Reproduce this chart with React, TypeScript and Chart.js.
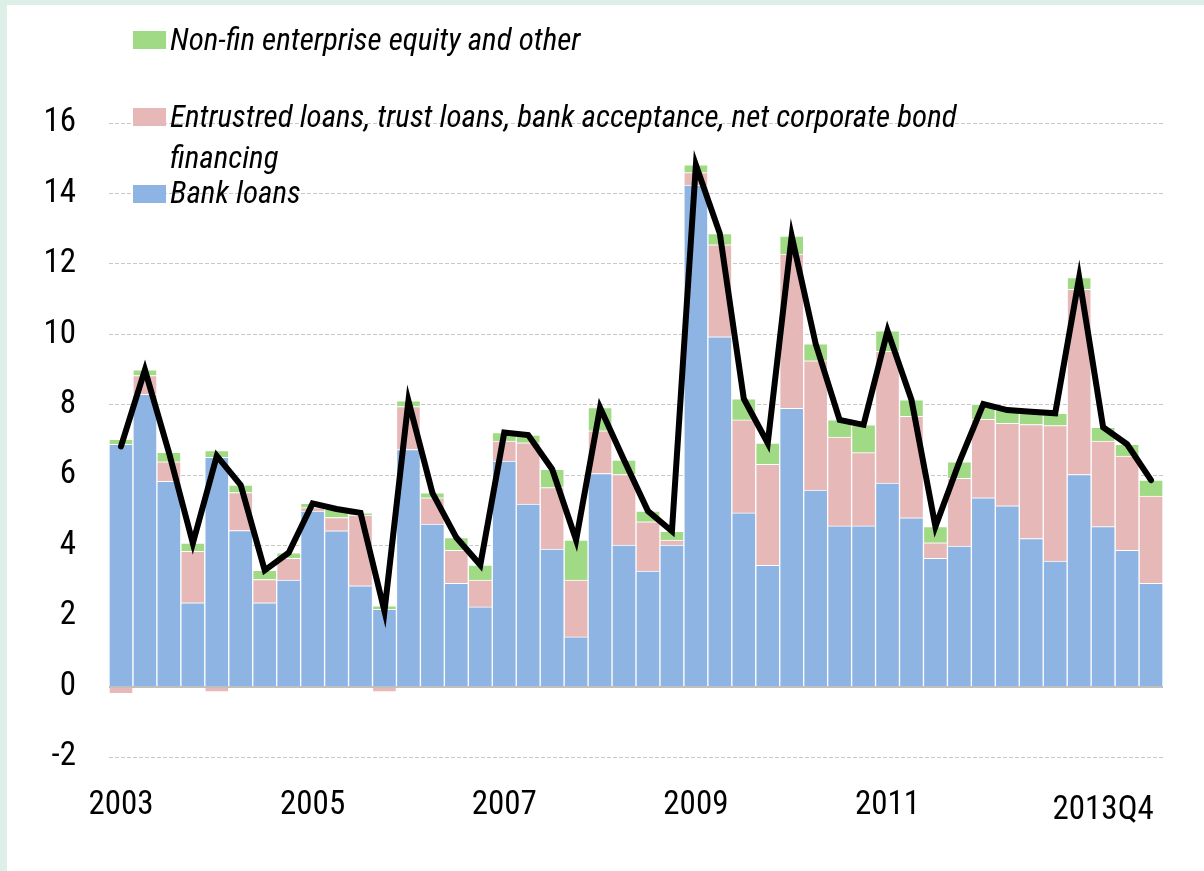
import React, { useEffect, useRef } from "react";
import { Chart, registerables } from "chart.js";

Chart.register(...registerables);

const quarters = [
  "2003Q1","2003Q2","2003Q3","2003Q4","2004Q1","2004Q2","2004Q3","2004Q4",
  "2005Q1","2005Q2","2005Q3","2005Q4","2006Q1","2006Q2","2006Q3","2006Q4",
  "2007Q1","2007Q2","2007Q3","2007Q4","2008Q1","2008Q2","2008Q3","2008Q4",
  "2009Q1","2009Q2","2009Q3","2009Q4","2010Q1","2010Q2","2010Q3","2010Q4",
  "2011Q1","2011Q2","2011Q3","2011Q4","2012Q1","2012Q2","2012Q3","2012Q4",
  "2013Q1","2013Q2","2013Q3","2013Q4",
];

const bankLoans = [
  6.88, 8.30, 5.83, 2.38, 6.51, 4.43, 2.38, 3.02,
  4.98, 4.42, 2.86, 2.19, 6.73, 4.61, 2.93, 2.26,
  6.40, 5.18, 3.90, 1.41, 6.05, 4.02, 3.28, 4.02,
  14.24, 9.93, 4.93, 3.44, 7.90, 5.58, 4.56, 4.56,
  5.78, 4.79, 3.64, 3.99, 5.36, 5.13, 4.20, 3.56,
  6.02, 4.54, 3.87, 2.93,
];

const shadowFinancing = [
  -0.20, 0.53, 0.55, 1.46, -0.15, 1.08, 0.66, 0.62,
  0.10, 0.38, 2.01, -0.15, 1.22, 0.75, 0.94, 0.76,
  0.57, 1.74, 1.75, 1.61, 1.21, 2.00, 1.40, 0.14,
  0.35, 2.61, 2.64, 2.87, 4.38, 3.67, 2.52, 2.08,
  3.74, 2.88, 0.44, 1.92, 2.23, 2.34, 3.24, 3.85,
  5.26, 2.43, 2.67, 2.48,
];

const equityOther = [
  0.14, 0.16, 0.27, 0.23, 0.19, 0.21, 0.26, 0.16,
  0.12, 0.24, 0.06, 0.10, 0.16, 0.14, 0.36, 0.43,
  0.24, 0.22, 0.52, 1.14, 0.66, 0.41, 0.30, 0.25,
  0.22, 0.32, 0.60, 0.60, 0.51, 0.48, 0.49, 0.79,
  0.58, 0.47, 0.46, 0.47, 0.43, 0.38, 0.36, 0.35,
  0.33, 0.39, 0.34, 0.45,
];

const totalFinancing = [
  6.82, 8.99, 6.65, 4.07, 6.55, 5.72, 3.30, 3.80,
  5.20, 5.04, 4.93, 2.14, 8.11, 5.50, 4.23, 3.45,
  7.21, 7.14, 6.17, 4.16, 7.92, 6.43, 4.98, 4.41,
  14.81, 12.86, 8.17, 6.91, 12.79, 9.73, 7.57, 7.43,
  10.10, 8.14, 4.54, 6.38, 8.02, 7.85, 7.80, 7.76,
  11.61, 7.36, 6.88, 5.86,
];

const xTickIndex = [0, 8, 16, 24, 32, 41];
const xTickText = ["2003", "2005", "2007", "2009", "2011", "2013Q4"];

const legendLabels = [
  "Non-fin enterprise equity and other",
  "Entrustred loans, trust loans, bank acceptance, net corporate bond",
  "financing",
  "Bank loans",
];

const BLUE = "#8EB4E3";
const PINK = "#E6B9B8";
const GREEN = "#A0DA84";
const FONT = '"Roboto Condensed", "Open Sans", sans-serif';

const zeroLine = {
  id: "zeroLine",
  afterDatasetsDraw(chart: any) {
    const { ctx, chartArea, scales } = chart;
    const py = scales.y.getPixelForValue(0);
    ctx.save();
    ctx.strokeStyle = "#BFBFBF";
    ctx.lineWidth = 2;
    ctx.beginPath();
    ctx.moveTo(chartArea.left, py + 0.5);
    ctx.lineTo(chartArea.right, py + 0.5);
    ctx.stroke();
    ctx.restore();
  },
};

export default function App() {
  const canvasRef = useRef<HTMLCanvasElement | null>(null);

  useEffect(() => {
    const canvas = canvasRef.current;
    if (!canvas) return;
    const barCommon = {
      type: "bar" as const,
      stack: "bars",
      order: 1,
      barPercentage: 1,
      categoryPercentage: 1,
      borderWidth: 1,
      borderColor: "#FFFFFF",
      borderSkipped: "start" as const,
    };
    const chart = new Chart(canvas, {
      type: "bar",
      data: {
        labels: quarters,
        datasets: [
          { ...barCommon, label: "Bank loans", data: bankLoans, backgroundColor: BLUE },
          { ...barCommon, label: "Entrusted loans etc.", data: shadowFinancing, backgroundColor: PINK },
          { ...barCommon, label: "Non-fin enterprise equity and other", data: equityOther, backgroundColor: GREEN },
          {
            type: "line" as const,
            label: "Total",
            data: totalFinancing,
            stack: "total",
            order: 0,
            borderColor: "#000000",
            borderWidth: 6,
            pointRadius: 0,
            tension: 0,
            borderCapStyle: "round",
            borderJoinStyle: "miter",
            fill: false,
          } as any,
        ],
      },
      options: {
        responsive: false,
        animation: false,
        events: [],
        layout: { padding: { left: 0, right: 41, top: 123, bottom: 0 } },
        plugins: { legend: { display: false }, tooltip: { enabled: false } },
        scales: {
          x: {
            stacked: true,
            grid: { display: false },
            border: { display: false },
            ticks: {
              autoSkip: false,
              maxRotation: 0,
              minRotation: 0,
              padding: 22,
              color: "#000000",
              font: (c: any) => ({ family: FONT, size: 33, lineHeight: c.index === 41 ? 1.45 : 1.15 }),
              callback: (_v: any, i: number) => {
                const k = xTickIndex.indexOf(i);
                return k >= 0 ? xTickText[k] : "";
              },
            },
            afterFit: (s: any) => {
              s.height = 114;
            },
          },
          y: {
            stacked: true,
            min: -2,
            max: 16,
            border: { display: false, dash: [4, 2] },
            grid: {
              drawTicks: false,
              color: (c: any) => (c.tick && c.tick.value === 0 ? "rgba(0,0,0,0)" : "#C8C8C8"),
              lineWidth: 1,
            },
            ticks: {
              stepSize: 2,
              padding: 33,
              color: "#000000",
              font: { family: FONT, size: 33 },
            },
            afterFit: (s: any) => {
              s.width = 109;
            },
          },
        },
      },
      plugins: [zeroLine],
    });
    return () => chart.destroy();
  }, []);

  const textStyle: React.CSSProperties = {
    position: "absolute",
    left: 170,
    fontFamily: FONT,
    fontStyle: "italic",
    fontSize: 31,
    color: "#000",
    whiteSpace: "nowrap",
    wordSpacing: 0,
  };
  const box = (top: number, color: string): React.CSSProperties => ({
    position: "absolute",
    left: 133,
    top,
    width: 33,
    height: 18,
    background: color,
  });

  return (
    <div style={{ position: "absolute", left: 0, top: 0, width: 1204, height: 871, background: "#DDF0E8", overflow: "hidden" }}>
      <div style={{ position: "absolute", left: 7, top: 5, right: 0, bottom: 0, background: "#FFFFFF" }} />
      <canvas ref={canvasRef} width={1204} height={871} style={{ position: "absolute", left: 0, top: 0, display: "block" }} />
      <div style={box(31, GREEN)} />
      <div style={{ ...textStyle, top: 23, lineHeight: "34px" }}>{legendLabels[0]}</div>
      <div style={box(108, PINK)} />
      <div style={{ ...textStyle, top: 96, lineHeight: "41px" }}>
        {legendLabels[1]}
        <br />
        {legendLabels[2]}
      </div>
      <div style={box(185, BLUE)} />
      <div style={{ ...textStyle, top: 176, lineHeight: "34px" }}>{legendLabels[3]}</div>
    </div>
  );
}
